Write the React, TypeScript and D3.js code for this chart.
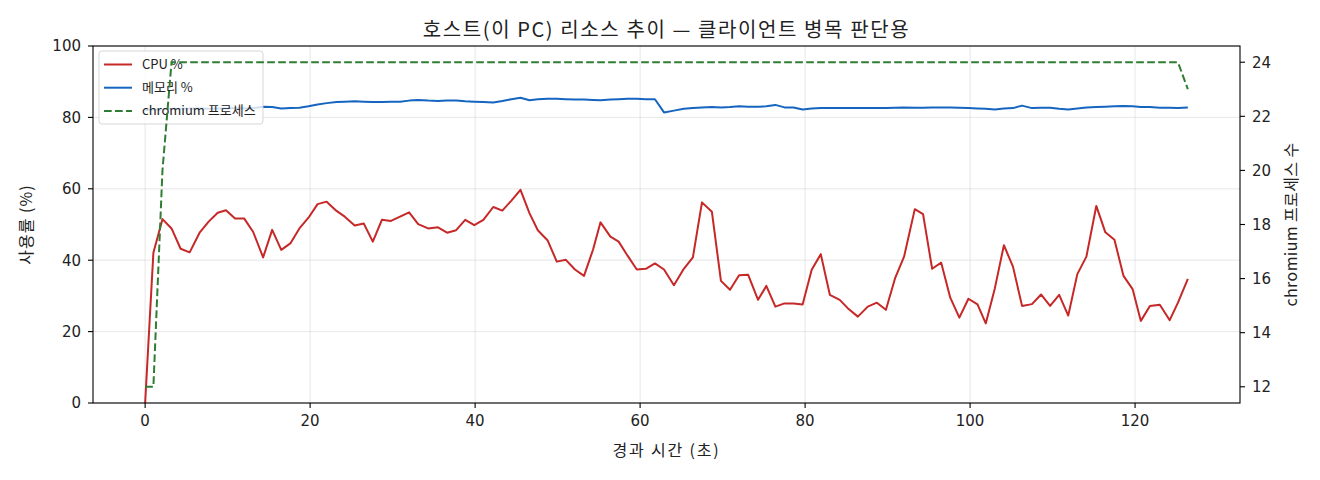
import React, { useRef, useEffect } from 'react';
import * as d3 from 'd3';

// elapsed seconds of each sample
const elapsed = [
  0, 1.0, 2.1, 3.2, 4.3, 5.4, 6.6, 7.7, 8.8, 9.8,
  10.9, 12.0, 13.1, 14.3, 15.4, 16.5, 17.6, 18.7, 19.8, 20.9,
  22.0, 23.2, 24.2, 25.4, 26.5, 27.6, 28.7, 29.8, 30.9, 32.0,
  33.1, 34.3, 35.5, 36.6, 37.7, 38.8, 39.9, 41.0, 42.2, 43.3,
  44.4, 45.5, 46.6, 47.6, 48.8, 49.9, 51.0, 52.1, 53.2, 54.3,
  55.2, 56.4, 57.4, 58.5, 59.6, 60.7, 61.8, 62.9, 64.1, 65.3,
  66.4, 67.5, 68.7, 69.8, 70.9, 72.0, 73.1, 74.3, 75.3, 76.4,
  77.5, 78.6, 79.7, 80.8, 81.9, 83.0, 84.2, 85.2, 86.4, 87.6,
  88.7, 89.8, 90.9, 92.0, 93.3, 94.3, 95.4, 96.5, 97.6, 98.7,
  99.8, 100.9, 101.9, 103.0, 104.1, 105.2, 106.3, 107.5, 108.6, 109.7,
  110.8, 111.9, 113.0, 114.1, 115.3, 116.4, 117.5, 118.6, 119.7, 120.7,
  121.8, 123.0, 124.2, 125.2, 126.4,
];

const cpuPct = [
  0, 42.1, 51.5, 48.9, 43.2, 42.2, 47.7, 50.8, 53.3, 54.0,
  51.7, 51.7, 47.9, 40.8, 48.5, 42.9, 44.7, 48.9, 51.9, 55.7,
  56.4, 53.8, 52.2, 49.7, 50.3, 45.2, 51.3, 51.0, 52.2, 53.4,
  50.1, 48.9, 49.2, 47.7, 48.4, 51.3, 49.8, 51.3, 54.9, 53.9,
  56.7, 59.7, 53.1, 48.4, 45.5, 39.6, 40.1, 37.4, 35.6, 43.0,
  50.6, 46.6, 45.2, 41.2, 37.4, 37.6, 39.1, 37.4, 33.0, 37.6,
  40.8, 56.2, 53.6, 34.2, 31.7, 35.8, 35.9, 28.9, 32.8, 27.0,
  27.9, 27.9, 27.6, 37.3, 41.7, 30.3, 28.9, 26.5, 24.2, 27.0,
  28.1, 26.1, 34.9, 41.0, 54.3, 52.9, 37.6, 39.3, 29.5, 23.9,
  29.2, 27.6, 22.3, 32.1, 44.2, 38.2, 27.2, 27.7, 30.4, 27.2,
  30.3, 24.5, 36.1, 41.0, 55.2, 47.8, 45.7, 35.6, 31.9, 23.0,
  27.2, 27.5, 23.2, 28.1, 34.8,
];

const memPct = [
  82.0, 82.2, 82.3, 82.4, 82.4, 82.5, 82.5, 82.4, 82.5, 82.5,
  82.6, 82.5, 82.6, 83.0, 82.9, 82.5, 82.6, 82.7, 83.1, 83.6,
  84.0, 84.3, 84.4, 84.5, 84.4, 84.3, 84.3, 84.4, 84.4, 84.7,
  84.9, 84.7, 84.6, 84.7, 84.7, 84.5, 84.4, 84.3, 84.2, 84.6,
  85.1, 85.5, 84.8, 85.1, 85.2, 85.2, 85.1, 85.0, 85.0, 84.9,
  84.8, 85.0, 85.1, 85.2, 85.2, 85.1, 85.1, 81.4, 81.9, 82.4,
  82.6, 82.8, 82.9, 82.8, 82.9, 83.1, 83.0, 83.0, 83.1, 83.5,
  82.8, 82.8, 82.2, 82.5, 82.6, 82.6, 82.6, 82.6, 82.6, 82.6,
  82.6, 82.6, 82.7, 82.8, 82.7, 82.7, 82.8, 82.8, 82.8, 82.7,
  82.6, 82.5, 82.4, 82.2, 82.5, 82.6, 83.3, 82.6, 82.7, 82.7,
  82.4, 82.2, 82.5, 82.8, 82.9, 83.0, 83.1, 83.2, 83.1, 82.9,
  82.9, 82.7, 82.7, 82.6, 82.8,
];

// chromium process count: samples where the count changes (flat in between)
const chromiumTimes = [0, 1.0, 2.1, 3.2, 125.2, 126.4];
const chromiumCounts = [12, 12, 20, 24, 24, 23];

const xTicks = [0, 20, 40, 60, 80, 100, 120];
const leftTicks = [0, 20, 40, 60, 80, 100];
const rightTicks = [12, 14, 16, 18, 20, 22, 24];

const seriesNames = ['CPU %', '메모리 %', 'chromium 프로세스'];
const seriesColors = ['#c62828', '#1565c0', '#2e7d32'];

const KR = '"Noto Sans CJK KR", "DejaVu Sans", sans-serif';
const NUM = '"DejaVu Sans", "Noto Sans CJK KR", sans-serif';

const App: React.FC = () => {
  const chartRef = useRef<SVGSVGElement | null>(null);

  useEffect(() => {
    if (!chartRef.current) return;
    document.body.style.margin = '0';

    const svg = d3.select(chartRef.current);
    svg.selectAll('*').remove();

    const width = 1320;
    const height = 480;
    const margin = { top: 46, right: 80, bottom: 77, left: 93 };
    const x0 = margin.left;
    const x1 = width - margin.right;
    const y0 = height - margin.bottom;
    const y1 = margin.top;

    svg.append('rect').attr('width', width).attr('height', height).attr('fill', '#fff');

    // matplotlib-style 5% padding
    const [tMin, tMax] = d3.extent(elapsed) as [number, number];
    const pad = (tMax - tMin) * 0.05;
    const x = d3.scaleLinear().domain([tMin - pad, tMax + pad]).range([x0, x1]);
    const yL = d3.scaleLinear().domain([0, 100]).range([y0, y1]);
    const [cMin, cMax] = d3.extent(chromiumCounts) as [number, number];
    const cPad = (cMax - cMin) * 0.05;
    const yR = d3.scaleLinear().domain([cMin - cPad, cMax + cPad]).range([y0, y1]);

    // grid
    const grid = svg.append('g').attr('stroke', '#b0b0b0').attr('stroke-opacity', 0.3).attr('stroke-width', 1);
    grid.selectAll('line.v').data(xTicks).join('line')
      .attr('x1', d => x(d)).attr('x2', d => x(d)).attr('y1', y0).attr('y2', y1);
    grid.selectAll('line.h').data(leftTicks).join('line')
      .attr('x1', x0).attr('x2', x1).attr('y1', d => yL(d)).attr('y2', d => yL(d));

    // left-axis lines
    const lineLeft = d3.line<number>().x((_, i) => x(elapsed[i])).y(d => yL(d));
    svg.append('path').datum(cpuPct).attr('d', lineLeft)
      .attr('fill', 'none').attr('stroke', seriesColors[0]).attr('stroke-width', 2).attr('stroke-linejoin', 'round');
    svg.append('path').datum(memPct).attr('d', lineLeft)
      .attr('fill', 'none').attr('stroke', seriesColors[1]).attr('stroke-width', 2).attr('stroke-linejoin', 'round');

    // legend (drawn before the twin-axis line, like matplotlib)
    const lg = svg.append('g').attr('transform', `translate(${x0 + 6},${y1 + 5})`);
    lg.append('rect').attr('width', 164).attr('height', 73).attr('rx', 3)
      .attr('fill', '#fff').attr('fill-opacity', 0.8)
      .attr('stroke', '#cccccc').attr('stroke-opacity', 0.8).attr('stroke-width', 1);
    const items = lg.selectAll('g.item').data(seriesNames).join('g')
      .attr('transform', (_, i) => `translate(0,${13.5 + i * 23.2})`);
    items.append('line').attr('x1', 5).attr('x2', 33).attr('y1', 0).attr('y2', 0)
      .attr('stroke', (_, i) => seriesColors[i]).attr('stroke-width', 2)
      .attr('stroke-dasharray', (_, i) => (i === 2 ? '7.7,3.3' : null));
    items.append('text').attr('x', 43).attr('dy', '0.35em')
      .attr('font-family', KR).attr('font-size', 13).attr('fill', '#222')
      .text(d => d);

    // chromium (right axis)
    const lineChrom = d3.line<number>().x((_, i) => x(chromiumTimes[i])).y(d => yR(d));
    svg.append('path').datum(chromiumCounts).attr('d', lineChrom)
      .attr('fill', 'none').attr('stroke', seriesColors[2]).attr('stroke-width', 2)
      .attr('stroke-dasharray', '7.7,3.3');

    // spines
    svg.append('rect').attr('x', x0).attr('y', y1).attr('width', x1 - x0).attr('height', y0 - y1)
      .attr('fill', 'none').attr('stroke', '#000').attr('stroke-width', 1.1);

    // x axis
    const xa = svg.append('g');
    xa.selectAll('line').data(xTicks).join('line')
      .attr('x1', d => x(d)).attr('x2', d => x(d)).attr('y1', y0).attr('y2', y0 + 5)
      .attr('stroke', '#000').attr('stroke-width', 1.1);
    xa.selectAll('text').data(xTicks).join('text')
      .attr('x', d => x(d)).attr('y', y0 + 23).attr('text-anchor', 'middle')
      .attr('font-family', NUM).attr('font-size', 15).attr('fill', '#222')
      .text(d => d);

    // left y axis
    const ya = svg.append('g');
    ya.selectAll('line').data(leftTicks).join('line')
      .attr('x1', x0 - 5).attr('x2', x0).attr('y1', d => yL(d)).attr('y2', d => yL(d))
      .attr('stroke', '#000').attr('stroke-width', 1.1);
    ya.selectAll('text').data(leftTicks).join('text')
      .attr('x', x0 - 12).attr('y', d => yL(d)).attr('dy', '0.36em').attr('text-anchor', 'end')
      .attr('font-family', NUM).attr('font-size', 15).attr('fill', '#222')
      .text(d => d);

    // right y axis
    const yr = svg.append('g');
    yr.selectAll('line').data(rightTicks).join('line')
      .attr('x1', x1).attr('x2', x1 + 5).attr('y1', d => yR(d)).attr('y2', d => yR(d))
      .attr('stroke', '#000').attr('stroke-width', 1.1);
    yr.selectAll('text').data(rightTicks).join('text')
      .attr('x', x1 + 12).attr('y', d => yR(d)).attr('dy', '0.36em')
      .attr('font-family', NUM).attr('font-size', 15).attr('fill', '#222')
      .text(d => d);

    // labels
    svg.append('text').attr('x', (x0 + x1) / 2).attr('y', 37).attr('text-anchor', 'middle')
      .attr('font-family', KR).attr('font-size', 20).attr('letter-spacing', 1.6).attr('fill', '#222')
      .text('호스트(이 PC) 리소스 추이 — 클라이언트 병목 판단용');
    svg.append('text').attr('x', (x0 + x1) / 2).attr('y', 456).attr('text-anchor', 'middle')
      .attr('font-family', KR).attr('font-size', 16).attr('letter-spacing', 1.8).attr('fill', '#222')
      .text('경과 시간 (초)');
    svg.append('text').attr('transform', `translate(32,${(y0 + y1) / 2}) rotate(-90)`)
      .attr('text-anchor', 'middle')
      .attr('font-family', KR).attr('font-size', 16).attr('letter-spacing', 1).attr('fill', '#222')
      .text('사용률 (%)');
    svg.append('text').attr('transform', `translate(1297,${(y0 + y1) / 2}) rotate(-90)`)
      .attr('text-anchor', 'middle')
      .attr('font-family', KR).attr('font-size', 16).attr('letter-spacing', 0.4).attr('fill', '#222')
      .text('chromium 프로세스 수');
  }, []);

  return (
    <div style={{ width: 1320, height: 480 }}>
      <svg ref={chartRef} width={1320} height={480} style={{ display: 'block' }} />
    </div>
  );
};

export default App;
